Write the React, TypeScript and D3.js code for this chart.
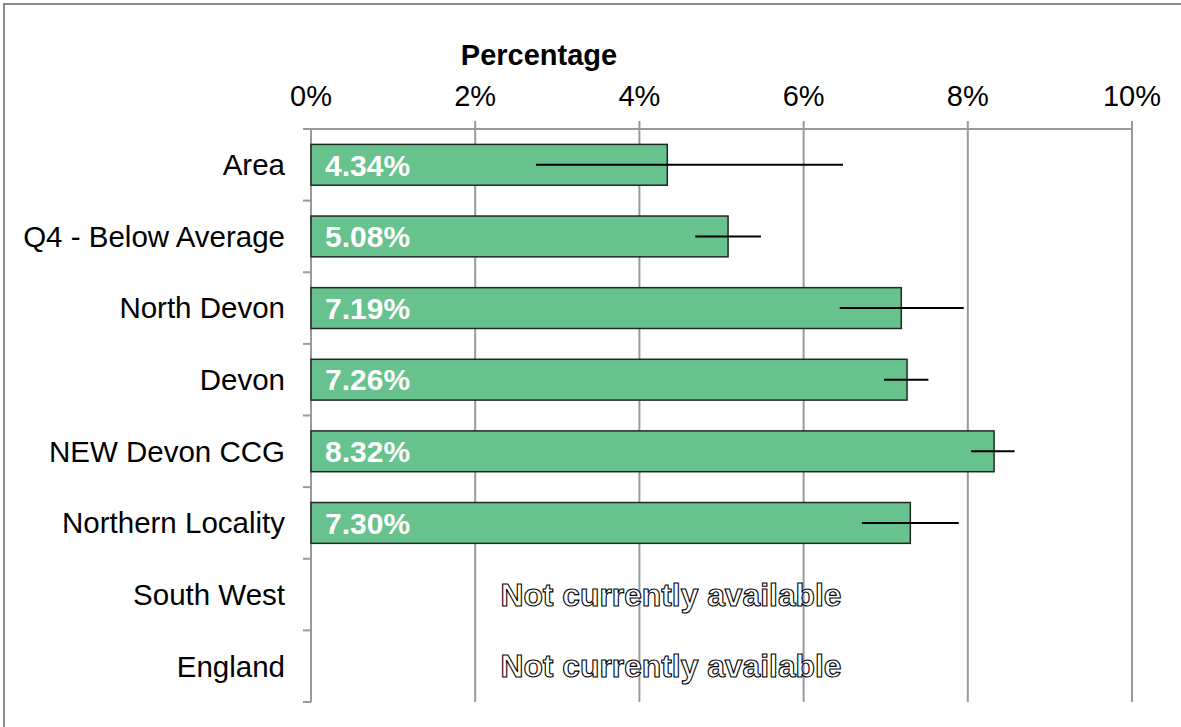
import React from 'react';
import * as d3 from 'd3';

// chart values
const categories = ['Area', 'Q4 - Below Average', 'North Devon', 'Devon', 'NEW Devon CCG', 'Northern Locality', 'South West', 'England'];
const values: (number | null)[] = [4.34, 5.08, 7.19, 7.26, 8.32, 7.30, null, null];
const lowerCI: (number | null)[] = [2.74, 4.68, 6.44, 6.98, 8.04, 6.71, null, null];
const upperCI: (number | null)[] = [6.48, 5.48, 7.95, 7.52, 8.57, 7.89, null, null];
const xTicks = [0, 2, 4, 6, 8, 10];

const W = 1181;
const H = 727;
const FONT = 'Liberation Sans, Arial, sans-serif';

const App: React.FC = () => {
  const x = d3.scaleLinear().domain([0, 10]).range([311, 1132]);
  const y = d3.scaleBand<string>().domain(categories).range([129, 702]).paddingInner(0.43).paddingOuter(0.215);
  const band = (702 - 129) / categories.length;
  const bh = y.bandwidth();

  return (
    <svg width={W} height={H} style={{ position: 'absolute', left: 0, top: 0, background: '#fff' }}>
      {/* outer frame, runs off the right/bottom edge */}
      <rect x={4} y={4} width={W + 10} height={H + 10} fill="none" stroke="#8c8c8c" strokeWidth={2} />

      <text x={539} y={65} textAnchor="middle" fontFamily={FONT} fontWeight="bold" fontSize={29} fill="#000">Percentage</text>

      {/* vertical gridlines */}
      {xTicks.map(t => (
        <line key={'g' + t} x1={x(t)} x2={x(t)} y1={t === 0 ? 129 : 121} y2={702} stroke="#9a9a9a" strokeWidth={2} />
      ))}
      {/* top axis line */}
      <line x1={303} x2={x(10)} y1={129} y2={129} stroke="#9a9a9a" strokeWidth={2} />
      {xTicks.map(t => (
        <text key={'t' + t} x={x(t)} y={106} textAnchor="middle" fontFamily={FONT} fontSize={29} fill="#000">{t}%</text>
      ))}

      {/* category ticks on left axis */}
      {d3.range(categories.length + 1).map(i => (
        <line key={'c' + i} x1={303} x2={311} y1={129 + i * band} y2={129 + i * band} stroke="#9a9a9a" strokeWidth={2} />
      ))}

      {categories.map((c, i) => {
        const cy = (y(c) as number) + bh / 2;
        const v = values[i];
        const lo = lowerCI[i];
        const hi = upperCI[i];
        return (
          <g key={c}>
            <text x={285} y={cy} dy="0.35em" textAnchor="end" fontFamily={FONT} fontSize={29.5} fill="#000">{c}</text>
            {v !== null ? (
              <>
                <rect x={x(0)} y={y(c)} width={x(v) - x(0)} height={bh} fill="#67c28e" stroke="#1e2a22" strokeWidth={1.5} />
                <text x={325} y={cy} dy="0.36em" fontFamily={FONT} fontWeight="bold" fontSize={30} fill="#fff">{v.toFixed(2)}%</text>
                {lo !== null && hi !== null && (
                  <line x1={x(lo)} x2={x(hi)} y1={cy} y2={cy} stroke="#000" strokeWidth={2} />
                )}
              </>
            ) : (
              <text x={671} y={cy} dy="0.35em" textAnchor="middle" fontFamily={FONT} fontWeight="bold" fontSize={31.8}
                fill="#fff" stroke="#000" strokeWidth={1.1}>Not currently available</text>
            )}
          </g>
        );
      })}
    </svg>
  );
};

export default App;
